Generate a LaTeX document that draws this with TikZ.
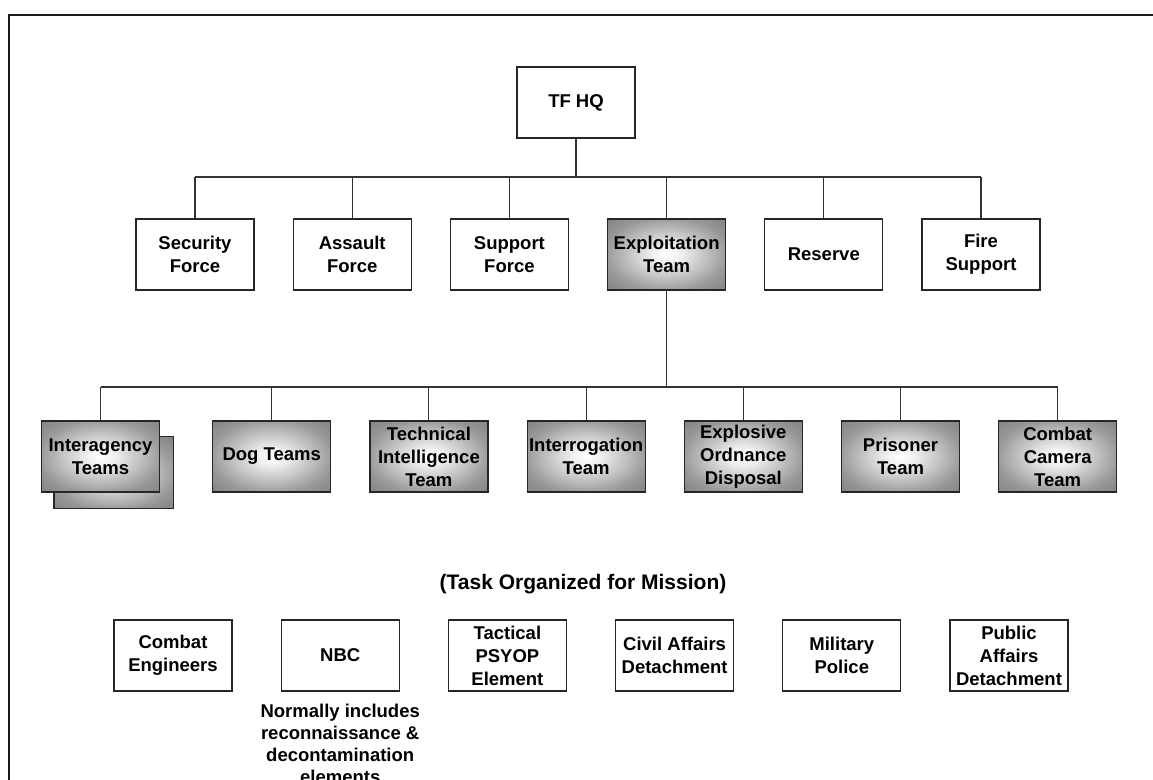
\documentclass[tikz,border=0pt]{standalone}
\usepackage{fontspec}
\setmainfont{Liberation Sans}
\usetikzlibrary{positioning,backgrounds}

\pgfdeclareradialshading{teamglow}{\pgfpoint{0bp}{0bp}}{%
  color(0bp)=(white); color(6bp)=(white!94!black);
  color(26bp)=(black!40); color(50bp)=(black!62)}

\begin{document}
\begin{tikzpicture}[x=1pt, y=1pt,
      node distance=38pt,
      unit/.style={rectangle, draw=black!85, line width=1.2pt, minimum width=118pt,
      minimum height=71pt, inner sep=0pt, align=center,
      font=\fontsize{18.5}{23}\selectfont\bfseries},
      team/.style={unit, shading=teamglow},
      link/.style={draw=black!80, line width=1.1pt}]
    \useasboundingbox (0,0) rectangle (1153,779);
    \draw[line width=2.6pt, black!90] (9,-10) -- (9,764) -- (1170,764);

    % command level
    \node[unit] (hq) at (576,676.5) {TF HQ};
    \node[unit] (sec) at (195,524.5) {Security\\Force};
    \node[unit, right=of sec] (asl) {Assault\\Force};
    \node[unit, right=of asl] (sup) {Support\\Force};
    \node[team, right=of sup] (exp) {Exploitation\\Team};
    \node[unit, right=of exp] (res) {Reserve};
    \node[unit, right=of res] (fire) {Fire\\Support};
    \coordinate (bus1) at (0,602);
    \draw[link] (hq) -- (hq |- bus1);
    \draw[link] (sec.north |- bus1) -- (fire.north |- bus1);
    \foreach \u in {sec,asl,sup,exp,res,fire}
      \draw[link] (\u.north) -- (\u.north |- bus1);

    % exploitation teams
    \node[team] (inter) at (100.5,322.5) {Interagency\\Teams};
    \node[team, right=52pt of inter] (dog) {Dog Teams};
    \node[team, right=of dog] (tech) {Technical\\Intelligence\\Team};
    \node[team, right=of tech] (intg) {Interrogation\\Team};
    \node[team, right=of intg] (eod) {Explosive\\Ordnance\\Disposal};
    \node[team, right=of eod] (pris) {Prisoner\\Team};
    \node[team, right=of pris] (cam) {Combat\\Camera\\Team};
    \begin{scope}[on background layer]
      \draw[shading=teamglow, draw=black!85, line width=1.2pt]
        ([shift={(13,-16)}]inter.south west) rectangle ([shift={(13,-16)}]inter.north east);
    \end{scope}
    \coordinate (bus2) at (0,392);
    \draw[link] (exp) -- (exp |- bus2);
    \draw[link] (inter.north |- bus2) -- (cam.north |- bus2);
    \foreach \u in {inter,dog,tech,intg,eod,pris,cam}
      \draw[link] (\u.north) -- (\u.north |- bus2);

    % attachments
    \node[font=\fontsize{21}{25}\selectfont\bfseries] (task) at (583,195) {(Task Organized for Mission)};
    \node[unit] (eng) at (173,123.5) {Combat\\Engineers};
    \node[unit, right=48pt of eng] (nbc) {NBC};
    \node[unit, right=48pt of nbc] (psy) {Tactical\\PSYOP\\Element};
    \node[unit, right=48pt of psy] (ca) {Civil Affairs\\Detachment};
    \node[unit, right=48pt of ca] (mp) {Military\\Police};
    \node[unit, right=48pt of mp] (pa) {Public\\Affairs\\Detachment};
    \node[below=12pt of nbc, align=center, inner sep=0pt,
      font=\fontsize{18.5}{22}\selectfont\bfseries] (note)
      {Normally includes\\reconnaissance \&\\decontamination\\elements};
  \end{tikzpicture}
\end{document}
